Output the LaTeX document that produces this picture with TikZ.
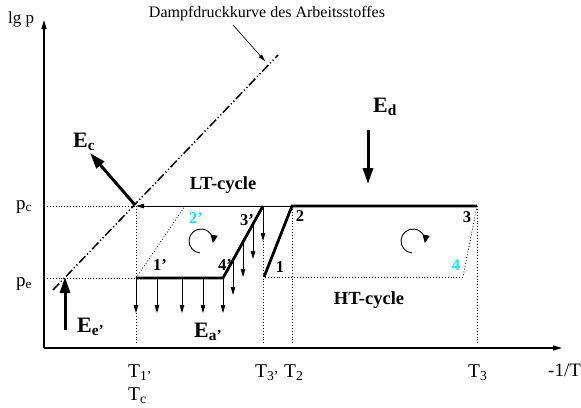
\documentclass[tikz,border=0pt]{standalone}
\usepackage{fontspec}
\setmainfont{Liberation Serif}
\usetikzlibrary{arrows.meta,calc}
\definecolor{brightcyan}{RGB}{0,240,250}
\begin{document}
\begin{tikzpicture}[x=1pt,y=-1pt,
  thinln/.style={line width=0.9pt},
  thickln/.style={line width=2.8pt},
  dotln/.style={line width=0.8pt,dash pattern=on 0.9pt off 2pt},
  dampf/.style={line width=1.5pt,dash pattern=on 9pt off 2.5pt on 1.2pt off 2.5pt on 1.2pt off 2.5pt},
  axis/.style={line width=1.2pt,-{Triangle[length=9pt,width=5pt]}},
  bigarrow/.style={line width=3pt,-{Triangle[length=16pt,width=10pt]}},
  smallarrow/.style={line width=0.9pt,-{Triangle[length=8pt,width=4.5pt]}},
  rot/.style={line width=0.9pt,-{Triangle[length=8pt,width=7pt]}},
  lbl/.style={inner sep=0pt,anchor=base west,font=\fontsize{19.5}{22}\selectfont},
  num/.style={inner sep=0pt,font=\fontsize{16.5}{18}\selectfont\bfseries},
  elbl/.style={inner sep=0pt,anchor=base west,font=\fontsize{22}{24}\selectfont\bfseries},
  cyc/.style={inner sep=0pt,font=\fontsize{18.5}{20}\selectfont\bfseries},
]
\path[use as bounding box] (0,0) rectangle (581,407);

% key points
\coordinate (O) at (44,348);
\coordinate (Ytop) at (44,20);
\coordinate (Xend) at (562,348);
\coordinate (PcL) at (44,206);
\coordinate (PeL) at (44,278);
\coordinate (Tc) at (136,206);
\coordinate (L1) at (136,278);
\coordinate (L2) at (185,206);
\coordinate (L3) at (263,206);
\coordinate (L4) at (223,278);
\coordinate (H1) at (264,277);
\coordinate (H2) at (292,206);
\coordinate (H3) at (477,206);
\coordinate (H4) at (463,277);
\coordinate (D0) at (53,290);
\coordinate (D1) at (278,55);
\coordinate (B1) at (136,345);
\coordinate (B3) at (263,345);
\coordinate (B2) at (292,345);
\coordinate (B4) at (477,345);
\coordinate (CL) at (201,241);
\coordinate (CH) at (413,241);

% axes
\draw[axis] (O) -- (Ytop);
\draw[axis] (O) -- (Xend);

% dotted helper lines
\draw[dotln] (PcL) -- (Tc);
\draw[dotln] (PeL) -- (L1);
\draw[dotln] (Tc) -- (B1);
\draw[dotln] (L3) -- (B3);
\draw[dotln] (H2) -- (B2);
\draw[dotln] (H3) -- (B4);
\draw[dotln] (L1) -- (L2);
\draw[dotln] (H3) -- (H4);
\draw[dotln] (H4) -- (H1);

% vapour pressure curve
\draw[dampf] (D0) -- (D1);
\node[inner sep=0pt,font=\fontsize{16}{18}\selectfont] (dtxt) at (267,14) {Dampfdruckkurve des Arbeitsstoffes};
\coordinate (Dp0) at (233,25);
\coordinate (Dp1) at (265,61);
\draw[line width=0.7pt,-{Triangle[length=7pt,width=4pt]}] (Dp0) -- (Dp1);

% thin condensation line
\draw[thinln,-{Triangle[length=8pt,width=4.5pt]}] (H2) -- (Tc);

% LT cycle
\draw[thickln] (L1) -- (L4) -- (L3);
% HT cycle
\draw[thickln] (H1) -- (H2) -- (H3);

% heat arrows down from 1'-4'
\foreach \xx in {136,157,182,203,223}{
  \coordinate (a\xx) at (\xx,278);
  \draw[smallarrow] (a\xx) -- ++(0,35);
}
\foreach \t [count=\i] in {0.25,0.5,0.75,1}{
  \coordinate (s\i) at ($(L4)!\t!(L3)$);
  \draw[smallarrow] (s\i) -- ++(0,35);
}

% energy arrows
\coordinate (Ec0) at (135,205);
\coordinate (Ec1) at (90,153);
\draw[bigarrow] (Ec0) -- (Ec1);
\coordinate (Ed0) at (368,130);
\coordinate (Ed1) at (368,184);
\draw[bigarrow] (Ed0) -- (Ed1);
\coordinate (Ee0) at (65,330);
\coordinate (Ee1) at (65,277);
\draw[bigarrow] (Ee0) -- (Ee1);

% rotation arrows
\draw[rot] ($(CL)+(95:12)$) arc[start angle=95,end angle=370,radius=12];
\draw[rot] ($(CH)+(95:12)$) arc[start angle=95,end angle=370,radius=12];

% labels
\node[inner sep=0pt,anchor=base west,font=\fontsize{17}{19}\selectfont] (lgp) at (8,23) {lg p};
\node[inner sep=0pt,anchor=base west,font=\fontsize{19}{21}\selectfont] (pc) at (16,209) {p\textsubscript{c}};
\node[inner sep=0pt,anchor=base west,font=\fontsize{19}{21}\selectfont] (pe) at (16,286) {p\textsubscript{e}};
\node[lbl] (T1) at (128,377) {T\textsubscript{1'}};
\node[lbl] (Tcl) at (128,400) {T\textsubscript{c}};
\node[lbl] (T3p) at (255,377) {T\textsubscript{3'}};
\node[lbl] (T2) at (284,377) {T\textsubscript{2}};
\node[lbl] (T3) at (468,377) {T\textsubscript{3}};
\node[lbl,font=\fontsize{19}{21}\selectfont] (xl) at (548,376) {-1/T};

\node[elbl] (Ecl) at (73,147) {E\textsubscript{c}};
\node[elbl] (Edl) at (373,112) {E\textsubscript{d}};
\node[elbl] (Eel) at (77,332) {E\textsubscript{e'}};
\node[elbl] (Eal) at (194,337) {E\textsubscript{a'}};

\node[cyc] (LT) at (223,185) {LT-cycle};
\node[cyc] (HT) at (369,300) {HT-cycle};

\node[num] (n1p) at (160,265) {1'};
\node[num,text=brightcyan] (n2p) at (196,218) {2'};
\node[num] (n3p) at (247,220) {3'};
\node[num] (n4p) at (225,265) {4'};
\node[num] (n1) at (280,267) {1};
\node[num] (n2) at (300,216) {2};
\node[num] (n3) at (467,217) {3};
\node[num,text=brightcyan] (n4) at (456,265) {4};
\end{tikzpicture}
\end{document}
